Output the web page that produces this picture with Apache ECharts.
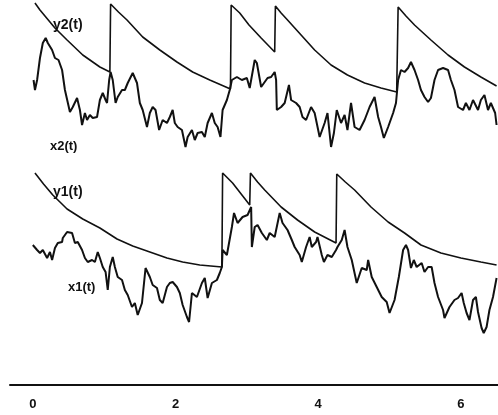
<!DOCTYPE html>
<html>
<head>
<meta charset="utf-8">
<script src="https://cdn.jsdelivr.net/npm/echarts@6/dist/echarts.min.js"></script>
<style>
  html, body { margin: 0; padding: 0; background: #fff; }
  #chart { width: 498px; height: 415px; }
</style>
</head>
<body>
<div id="chart"></div>
<script>
// time axis labels
const tickLabels = [0, 2, 4, 6];

// upper panel: path x2(t) and barrier y2(t)  [t, level]
const x2Path = [
  [0.01, 8.0], [0.03, 7.0], [0.06, 8.0], [0.10, 10.2], [0.14, 11.7], [0.18, 12.2], [0.21, 11.7],
  [0.27, 11.0], [0.31, 10.2], [0.36, 10.0], [0.41, 9.0], [0.45, 7.0], [0.52, 4.8], [0.56, 5.3],
  [0.62, 6.2], [0.66, 5.0], [0.69, 3.5], [0.73, 4.7], [0.76, 4.0], [0.80, 4.5], [0.84, 4.2],
  [0.90, 4.3], [0.94, 6.0], [0.98, 6.7], [1.02, 6.0], [1.04, 5.7], [1.07, 8.0], [1.09, 8.8],
  [1.12, 8.0], [1.16, 5.7], [1.19, 6.3], [1.25, 7.0], [1.29, 7.0], [1.33, 7.7], [1.40, 8.7],
  [1.46, 7.7], [1.50, 5.7], [1.54, 5.0], [1.60, 3.3], [1.64, 4.7], [1.68, 5.3], [1.72, 5.0],
  [1.77, 3.0], [1.82, 4.0], [1.88, 3.7], [1.92, 4.3], [1.96, 5.0], [1.99, 3.7], [2.03, 3.3],
  [2.09, 3.0], [2.14, 1.3], [2.17, 2.3], [2.23, 3.0], [2.27, 2.0], [2.31, 2.7], [2.37, 2.8],
  [2.41, 2.3], [2.45, 3.7], [2.51, 4.7], [2.55, 3.7], [2.59, 3.3], [2.63, 2.3], [2.66, 5.0],
  [2.72, 6.0], [2.76, 7.0], [2.79, 8.0], [2.86, 8.3], [2.93, 8.0], [3.00, 8.2], [3.04, 7.2],
  [3.11, 10.0], [3.14, 9.7], [3.20, 7.3], [3.25, 7.8], [3.29, 8.2], [3.34, 8.3], [3.39, 8.8],
  [3.41, 8.0], [3.42, 5.0], [3.48, 5.3], [3.53, 5.7], [3.59, 7.5], [3.62, 6.0], [3.69, 5.7],
  [3.74, 5.3], [3.78, 4.3], [3.83, 4.0], [3.90, 5.3], [3.95, 4.7], [4.02, 2.3], [4.09, 3.7],
  [4.13, 4.7], [4.18, 1.3], [4.22, 2.7], [4.26, 5.0], [4.32, 3.7], [4.37, 4.5], [4.41, 3.0],
  [4.46, 5.7], [4.51, 3.3], [4.58, 3.0], [4.65, 4.0], [4.72, 5.3], [4.79, 6.3], [4.84, 4.3],
  [4.88, 3.3], [4.92, 2.2], [4.98, 3.3], [5.05, 4.7], [5.09, 5.7], [5.12, 8.0], [5.16, 9.0],
  [5.21, 8.8], [5.26, 9.2], [5.30, 9.8], [5.35, 9.0], [5.40, 8.0], [5.44, 7.0], [5.49, 6.3],
  [5.54, 5.8], [5.58, 6.2], [5.63, 8.0], [5.68, 9.0], [5.75, 9.2], [5.82, 9.0], [5.86, 8.0],
  [5.91, 7.0], [5.96, 5.3], [6.03, 5.0], [6.07, 5.7], [6.12, 5.0], [6.17, 6.0], [6.24, 5.0],
  [6.28, 6.0], [6.33, 6.5], [6.38, 5.0], [6.42, 5.7], [6.48, 4.7], [6.50, 3.5]
];

const y2Curve = [
  [0.03, 15.7], [0.10, 15.0], [0.17, 14.4], [0.31, 13.2], [0.48, 12.0], [0.70, 10.5], [0.94, 9.3],
  [1.08, 8.8], [1.09, 15.6], [1.20, 14.8], [1.32, 14.0], [1.54, 12.3], [1.78, 11.0], [2.02, 9.8],
  [2.24, 8.8], [2.48, 8.0], [2.77, 7.1], [2.78, 15.5], [2.90, 14.7], [3.03, 13.5], [3.20, 12.2],
  [3.39, 10.8], [3.40, 15.4], [3.48, 14.7], [3.57, 14.0], [3.76, 12.5], [3.95, 11.0], [4.18, 9.5],
  [4.41, 8.5], [4.65, 7.7], [4.88, 7.2], [5.10, 6.8], [5.12, 15.3], [5.23, 14.4], [5.35, 13.5],
  [5.58, 12.0], [5.82, 10.5], [6.05, 9.3], [6.28, 8.3], [6.50, 7.4]
];

// lower panel: path x1(t) and barrier y1(t)
const x1Path = [
  [0.00, 14.0], [0.06, 13.5], [0.10, 13.2], [0.14, 13.5], [0.20, 12.7], [0.24, 13.3], [0.27, 12.5],
  [0.31, 13.7], [0.35, 14.2], [0.41, 14.3], [0.42, 14.7], [0.48, 15.3], [0.50, 15.5], [0.55, 15.2],
  [0.59, 14.2], [0.63, 14.3], [0.69, 13.5], [0.73, 12.7], [0.77, 12.3], [0.83, 12.5], [0.87, 12.3],
  [0.91, 13.3], [0.94, 12.7], [0.98, 11.8], [1.02, 11.3], [1.05, 9.5], [1.08, 11.8], [1.12, 12.8],
  [1.15, 11.8], [1.19, 10.8], [1.25, 10.5], [1.29, 9.5], [1.33, 9.0], [1.39, 7.8], [1.43, 8.2],
  [1.47, 7.0], [1.53, 8.2], [1.58, 11.7], [1.64, 10.8], [1.68, 10.0], [1.74, 9.7], [1.78, 8.5],
  [1.82, 8.2], [1.88, 9.8], [1.92, 10.2], [1.96, 10.3], [2.02, 9.8], [2.06, 9.2], [2.10, 8.0],
  [2.16, 6.8], [2.19, 6.3], [2.23, 9.2], [2.30, 8.8], [2.37, 10.2], [2.41, 10.7], [2.45, 8.7],
  [2.51, 10.2], [2.58, 10.5], [2.62, 11.2], [2.65, 11.8], [2.66, 13.5], [2.72, 13.0], [2.79, 15.8],
  [2.82, 17.2], [2.87, 16.2], [2.94, 16.8], [3.01, 17.0], [3.06, 17.8], [3.07, 13.8], [3.11, 15.8],
  [3.15, 16.0], [3.21, 15.2], [3.28, 14.5], [3.32, 15.2], [3.39, 14.8], [3.46, 17.2], [3.50, 16.2],
  [3.57, 15.5], [3.63, 14.5], [3.67, 13.8], [3.74, 13.0], [3.77, 12.3], [3.83, 13.8], [3.88, 14.8],
  [3.91, 13.8], [3.97, 14.3], [3.99, 14.8], [4.05, 13.0], [4.08, 12.3], [4.13, 13.0], [4.19, 12.8],
  [4.25, 13.5], [4.27, 13.8], [4.33, 14.5], [4.37, 15.5], [4.41, 13.8], [4.47, 12.5], [4.54, 10.2],
  [4.61, 11.7], [4.68, 11.5], [4.70, 12.5], [4.75, 10.8], [4.82, 9.8], [4.89, 8.8], [4.96, 8.3],
  [5.00, 7.2], [5.07, 8.5], [5.13, 10.8], [5.19, 13.5], [5.23, 14.0], [5.26, 13.5], [5.30, 11.7],
  [5.34, 12.5], [5.38, 11.8], [5.45, 12.2], [5.49, 11.3], [5.54, 11.8], [5.59, 11.8], [5.63, 10.2],
  [5.68, 8.8], [5.75, 7.5], [5.77, 6.7], [5.84, 7.8], [5.91, 8.5], [5.96, 8.7], [6.01, 9.2],
  [6.04, 8.2], [6.08, 7.2], [6.12, 6.5], [6.17, 8.5], [6.21, 8.8], [6.24, 7.3], [6.29, 5.7],
  [6.32, 5.2], [6.36, 5.8], [6.40, 7.5], [6.45, 8.8], [6.50, 10.7]
];

const y1Curve = [
  [0.03, 21.2], [0.15, 20.1], [0.28, 19.0], [0.48, 17.6], [0.70, 16.6], [0.94, 15.7], [1.18, 14.6],
  [1.40, 13.9], [1.64, 13.3], [1.88, 12.7], [2.10, 12.3], [2.34, 12.0], [2.65, 11.8], [2.66, 21.2],
  [2.73, 20.7], [2.80, 20.2], [2.92, 19.1], [3.04, 18.0], [3.05, 21.2], [3.15, 20.3], [3.25, 19.5],
  [3.48, 17.8], [3.71, 16.5], [3.95, 15.3], [4.25, 14.2], [4.26, 21.1], [4.38, 20.3], [4.51, 19.5],
  [4.74, 17.8], [4.98, 16.3], [5.21, 15.2], [5.44, 14.0], [5.72, 13.2], [6.00, 12.7], [6.28, 12.3],
  [6.50, 12.0]
];

const chart = echarts.init(document.getElementById('chart'));

const ink = '#111';
const labelFont = '"Liberation Sans", Arial, sans-serif';

function lineSeries(data, idx, width) {
  return {
    type: 'line',
    data: data,
    xAxisIndex: idx,
    yAxisIndex: idx,
    symbol: 'none',
    lineStyle: { color: ink, width: width },
    silent: true
  };
}

const option = {
  backgroundColor: '#fff',
  animation: false,
  grid: [
    { left: 10, right: 0, top: 0, height: 160 },
    { left: 10, right: 0, top: 165, bottom: 30 }
  ],
  xAxis: [
    { type: 'value', gridIndex: 0, min: -0.32, max: 6.52, show: false },
    {
      type: 'value',
      gridIndex: 1,
      min: -0.32,
      max: 6.52,
      splitLine: { show: false },
      axisTick: { show: false },
      axisLine: { show: true, lineStyle: { color: ink, width: 2 } },
      axisLabel: {
        customValues: tickLabels,
        color: ink,
        fontSize: 13,
        fontWeight: 'bold',
        fontFamily: labelFont,
        margin: 13
      }
    }
  ],
  yAxis: [
    { type: 'value', gridIndex: 0, min: 0, max: 16, show: false },
    { type: 'value', gridIndex: 1, min: 0, max: 22, show: false }
  ],
  series: [
    lineSeries(x2Path, 0, 2),
    lineSeries(y2Curve, 0, 1.6),
    lineSeries(x1Path, 1, 2),
    lineSeries(y1Curve, 1, 1.6)
  ],
  graphic: [
    { type: 'text', left: 53, top: 18, style: { text: 'y2(t)', fill: ink, font: '600 14px ' + labelFont } },
    { type: 'text', left: 50, top: 140, style: { text: 'x2(t)', fill: ink, font: '600 13px ' + labelFont } },
    { type: 'text', left: 53, top: 185, style: { text: 'y1(t)', fill: ink, font: '600 14px ' + labelFont } },
    { type: 'text', left: 68, top: 281, style: { text: 'x1(t)', fill: ink, font: '600 13px ' + labelFont } }
  ]
};

chart.setOption(option);
</script>
</body>
</html>
